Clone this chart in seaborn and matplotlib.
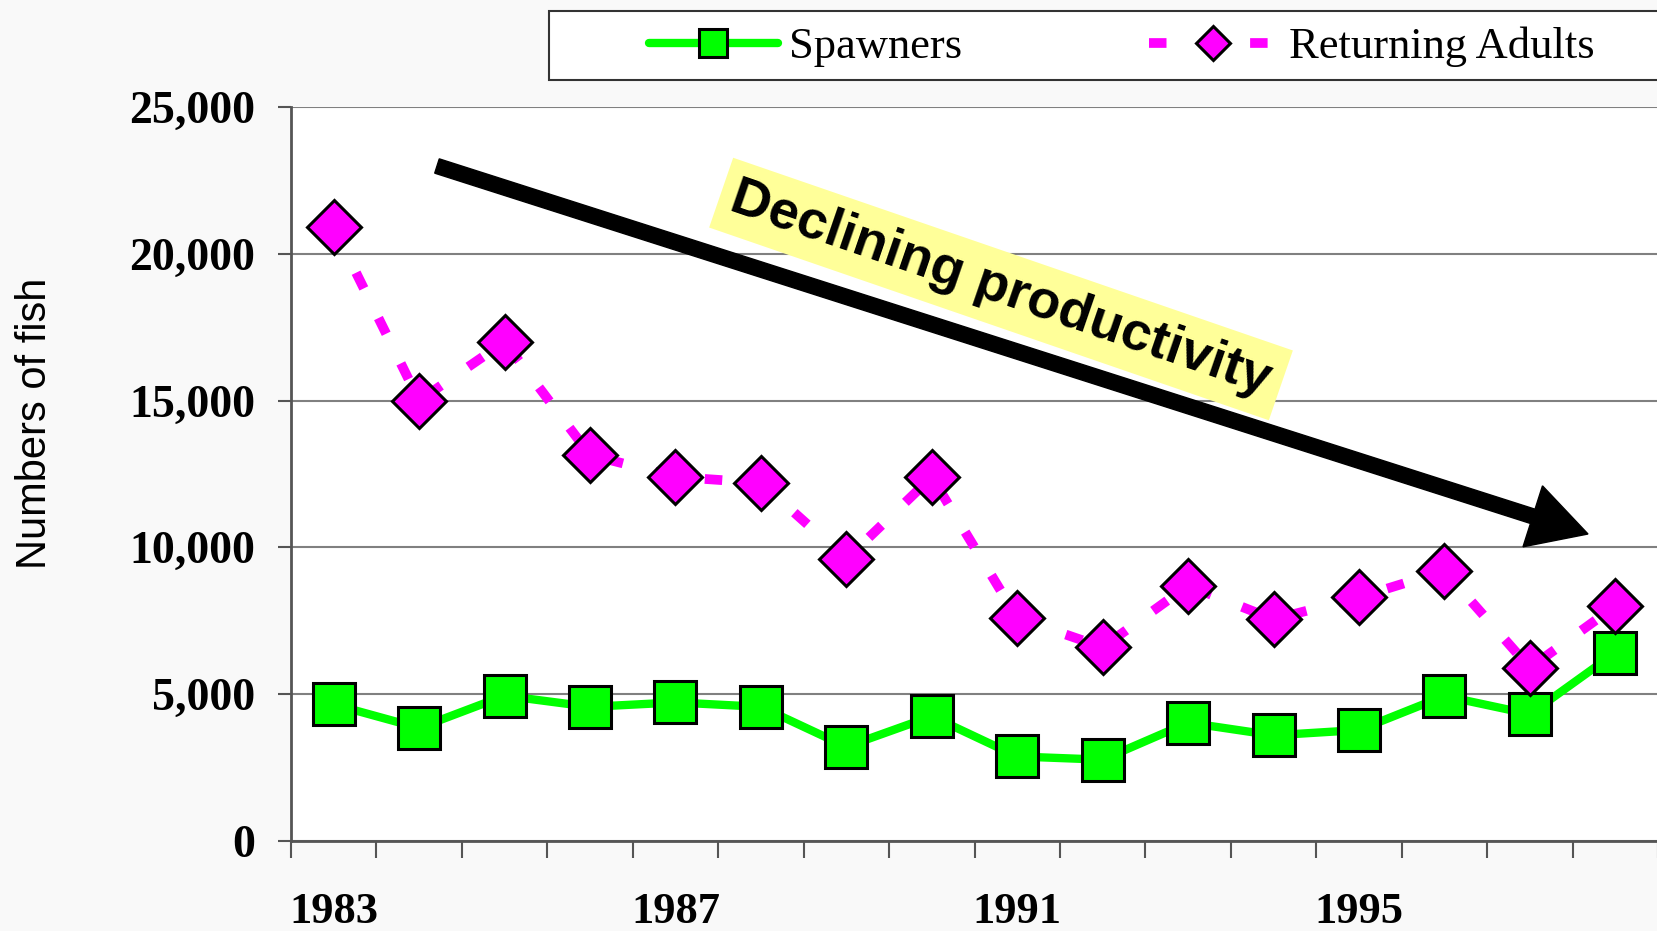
import numpy as np
import pandas as pd
import seaborn as sns
import matplotlib
matplotlib.use("Agg")
import matplotlib.pyplot as plt
from matplotlib.patches import FancyArrow, Rectangle
from matplotlib.transforms import IdentityTransform

# ---- data ----
years = list(range(1983, 1999))
spawners = [4650, 3850, 4950, 4570, 4720, 4570, 3210, 4250, 2880, 2770,
            4030, 3600, 3780, 4940, 4320, 6410]
returning = [20900, 15000, 17000, 13150, 12400, 12200, 9600, 12400, 7600, 6600,
             8700, 7550, 8300, 9200, 5900, 8000]
year_labels = [1983, 1987, 1991, 1995]
y_ticks = [0, 5000, 10000, 15000, 20000, 25000]
series_names = ["Spawners", "Returning Adults"]
annotation = "Declining productivity"
y_title = "Numbers of fish"

sns.set_theme(style="white")
plt.rcParams["font.family"] = ["Liberation Serif", "DejaVu Sans"]
plt.rcParams["text.color"] = "black"
plt.rcParams["xtick.color"] = "black"
plt.rcParams["ytick.color"] = "black"
plt.rcParams["axes.labelcolor"] = "black"

W, H = 1658, 931
fig = plt.figure(figsize=(W / 100, H / 100), dpi=100, facecolor="#f9f9f9")
ax = fig.add_axes([291 / W, 90 / H, 1 - 291 / W, (841 - 107) / H])
ax.set_facecolor("white")

df = pd.DataFrame({"year": years, series_names[0]: spawners, series_names[1]: returning})

sns.lineplot(data=df, x="year", y=series_names[0], ax=ax, color="#00ff00", lw=6,
             marker="s", markersize=30, markeredgecolor="black", markeredgewidth=2.2,
             label=series_names[0], zorder=3)
sns.lineplot(data=df, x="year", y=series_names[1], ax=ax, color="#ff00ff", lw=7,
             marker="D", markersize=27, markeredgecolor="black", markeredgewidth=2.2,
             label=series_names[1], zorder=4)
ax.lines[-1].set_dashes((1.8, 3.4))
ax.lines[-1].set_dash_capstyle("butt")
for ln in ax.lines:
    ln.set_clip_on(False)

if ax.get_legend() is not None:
    ax.get_legend().remove()

ax.set_xlim(1982.5, 1982.5 + (W - 291) / 85.97)
ax.set_ylim(0, 25000)
ax.set_xlabel("")
ax.set_ylabel("")

ax.set_yticks(y_ticks, labels=[f"{v:,}" for v in y_ticks],
              fontfamily="Liberation Serif", fontweight="bold", fontsize=33, color="black")
ax.set_xticks(year_labels, labels=[str(y) for y in year_labels],
              fontfamily="Liberation Serif", fontweight="bold", fontsize=32, color="black")
ax.set_xticks(np.arange(1982.5, 1999, 1.0), minor=True)
ax.tick_params(axis="x", which="major", length=0, pad=37)
ax.tick_params(axis="x", which="minor", length=12, width=1.5, color="#555555",
               direction="out", bottom=True)
ax.tick_params(axis="y", which="major", length=9.6, width=1.5, color="#555555",
               direction="out", left=True, pad=16)

ax.yaxis.grid(True, color="#808080", lw=1.5)
ax.xaxis.grid(False)
ax.set_axisbelow(True)
for s in ["top", "right"]:
    ax.spines[s].set_visible(False)
for s in ["left", "bottom"]:
    ax.spines[s].set_color("#555555")
    ax.spines[s].set_linewidth(2)

fig.text(35 / W, 1 - 423 / H, y_title, rotation=90, ha="center", va="center",
         fontfamily="Liberation Sans", fontsize=30, color="black")

# arrow
arrow = FancyArrow(437, H - 166, 1151, -368, width=15, head_width=64, head_length=58,
                   length_includes_head=True, color="black",
                   transform=IdentityTransform(), zorder=6)
fig.add_artist(arrow)

fig.text(1001 / W, 1 - 289 / H, annotation, rotation=-19, rotation_mode="anchor",
         ha="center", va="center", fontsize=39, fontweight="bold",
         fontfamily="Liberation Sans", zorder=7, color="black",
         bbox=dict(boxstyle="square,pad=0.22", fc="#ffff99", ec="none"))

# legend box
rect = Rectangle((549, H - 80), 1200, 69, transform=IdentityTransform(),
                 fc="white", ec="#333333", lw=1.5, zorder=8)
fig.add_artist(rect)
handles, labels = ax.get_legend_handles_labels()
leg = fig.legend(handles, labels, loc="center left", bbox_to_anchor=(649 / W, 1 - 47 / H),
                 frameon=False, ncol=2, borderpad=0, borderaxespad=0, handlelength=2.9,
                 handletextpad=0.25, columnspacing=4.2, markerscale=0.65,
                 prop={"family": "Liberation Serif", "size": 32})
leg.set_zorder(9)
for t in leg.get_texts():
    t.set_color("black")

fig.savefig("out.png", dpi=100, facecolor=fig.get_facecolor())
